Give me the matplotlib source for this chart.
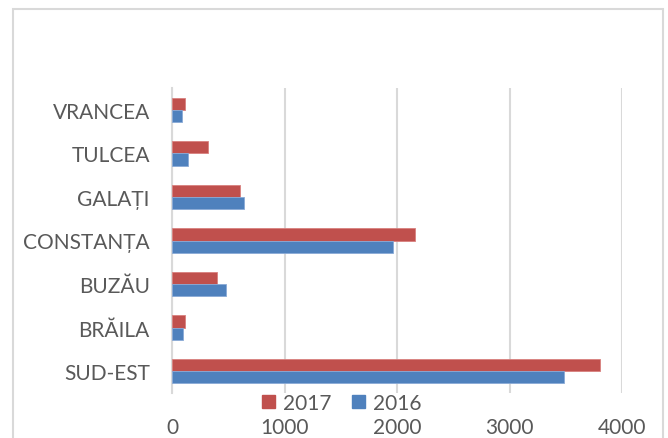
import matplotlib
matplotlib.use('Agg')
import matplotlib.pyplot as plt
from matplotlib.patches import Patch, Rectangle

# Data
categories = ['SUD-EST', 'BRĂILA', 'BUZĂU', 'CONSTANȚA', 'GALAȚI', 'TULCEA', 'VRANCEA']
values_2017 = [3800, 113, 400, 2160, 604, 323, 115]
values_2016 = [3480, 95, 483, 1960, 642, 145, 89]
x_ticks = [0, 1000, 2000, 3000, 4000]

red = '#C0504D'
blue = '#4F81BD'
gray_text = '#595959'
grid_col = '#D9D9D9'

plt.rcParams['font.family'] = ['Lato', 'DejaVu Sans']

fig = plt.figure(figsize=(6.68, 4.39), dpi=100)
W, H = 668, 439
ax = fig.add_axes([172 / W, 1 - 394 / H, 450 / W, 305 / H])

# outer chart frame
fig.patches.append(Rectangle((13 / W, -0.05), 650 / W, 1 - 10 / H + 0.05,
                             transform=fig.transFigure, fill=False,
                             edgecolor=grid_col, lw=1.5))

pos = list(range(len(categories)))
h = 0.28
ax.barh([p + h / 2 for p in pos], values_2017, height=h, color=red,
        edgecolor='#D9807E', lw=0.6, zorder=3)
ax.barh([p - h / 2 for p in pos], values_2016, height=h, color=blue,
        edgecolor='#8AAAD6', lw=0.6, zorder=3)

ax.set_xlim(0, 4000)
ax.set_ylim(-0.5, len(categories) - 0.5)
ax.set_xticks(x_ticks)
ax.set_yticks(pos)
ax.set_yticklabels(categories)
ax.tick_params(axis='both', length=0, labelsize=15, colors=gray_text)
ax.tick_params(axis='y', pad=16)
ax.tick_params(axis='x', pad=17)
ax.grid(axis='x', color=grid_col, lw=1.5, zorder=0)
for s in ['top', 'right', 'bottom']:
    ax.spines[s].set_visible(False)
ax.spines['left'].set_color(grid_col)
ax.spines['left'].set_linewidth(1.5)

handles = [Patch(color=red, label='2017'), Patch(color=blue, label='2016')]
fig.legend(handles=handles, loc='center', bbox_to_anchor=(342 / W, 1 - 404 / H),
           ncol=2, frameon=False, fontsize=15, labelcolor=gray_text,
           handlelength=0.6, handleheight=0.6, handletextpad=0.4,
           columnspacing=1.0, borderpad=0)

fig.savefig('out.png', dpi=100)
